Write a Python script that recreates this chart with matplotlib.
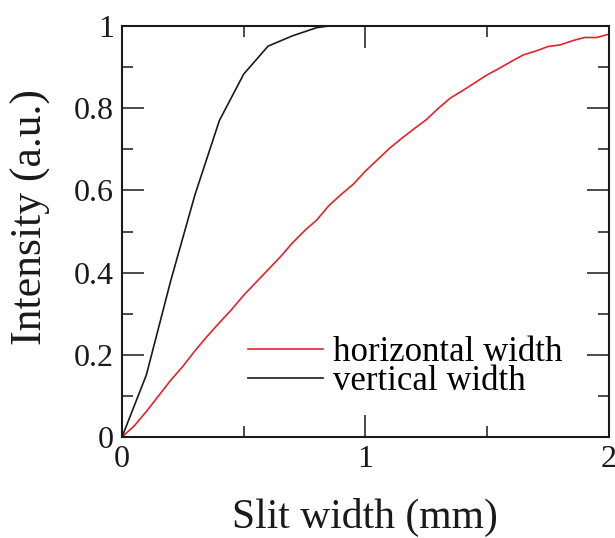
import matplotlib
matplotlib.use("Agg")
import matplotlib.pyplot as plt
from matplotlib.ticker import MultipleLocator, FuncFormatter

plt.rcParams['font.family'] = ['Liberation Serif', 'DejaVu Serif']

# Data
vert_x = [0, 0.1, 0.2, 0.3, 0.4, 0.5, 0.6, 0.7, 0.8, 0.85, 0.9, 1.0, 1.5, 2.0]
vert_y = [0, 0.151, 0.38, 0.59, 0.77, 0.883, 0.951, 0.976, 0.996, 1.0, 1.0, 1.0, 1.0, 1.0]

horiz_x = [0, 0.05, 0.1, 0.15, 0.2, 0.25, 0.3, 0.35, 0.4, 0.45, 0.5, 0.55, 0.6, 0.65,
           0.7, 0.75, 0.8, 0.85, 0.9, 0.95, 1.0, 1.05, 1.1, 1.15, 1.2, 1.25, 1.3, 1.35,
           1.4, 1.45, 1.5, 1.55, 1.6, 1.65, 1.7, 1.75, 1.8, 1.85, 1.9, 1.95, 2.0]
horiz_y = [0, 0.027, 0.062, 0.1, 0.138, 0.172, 0.21, 0.245, 0.278, 0.31, 0.345, 0.376,
           0.407, 0.438, 0.472, 0.502, 0.528, 0.563, 0.59, 0.615, 0.647, 0.675, 0.703,
           0.727, 0.75, 0.772, 0.8, 0.825, 0.843, 0.862, 0.881, 0.897, 0.914, 0.93,
           0.939, 0.95, 0.954, 0.964, 0.972, 0.972, 0.98]

labels = ["horizontal width", "vertical width"]
xlabel = "Slit width (mm)"
ylabel = "Intensity (a.u.)"

fig = plt.figure(figsize=(6.15, 5.38), dpi=100)
ax = fig.add_axes([0.1984, 0.1877, 0.7916, 0.764])

ax.plot(horiz_x, horiz_y, color='#e3232c', lw=1.2, label=labels[0])
ax.plot(vert_x, vert_y, color='#1a1a1a', lw=1.2, label=labels[1])

ax.set_xlim(0, 2)
ax.set_ylim(0, 1)
ax.xaxis.set_major_locator(MultipleLocator(1))
ax.xaxis.set_minor_locator(MultipleLocator(0.5))
ax.yaxis.set_major_locator(MultipleLocator(0.2))
ax.yaxis.set_minor_locator(MultipleLocator(0.1))
ax.yaxis.set_major_formatter(FuncFormatter(lambda v, p: f"{v:g}"))
ax.xaxis.set_major_formatter(FuncFormatter(lambda v, p: f"{v:g}"))

ax.tick_params(which='both', direction='in', top=True, right=True, width=1.1,
               labelsize=23, colors='#1a1a1a')
ax.tick_params(which='major', length=16, pad=6)
ax.tick_params(which='minor', length=8)
for s in ax.spines.values():
    s.set_linewidth(1.5)
    s.set_color('#1a1a1a')

ax.set_xlabel(xlabel, fontsize=30, labelpad=17, color='#1a1a1a')
ax.set_ylabel(ylabel, fontsize=31.5, color='#1a1a1a', va='center')
ax.yaxis.set_label_coords(-0.187, 0.535)

leg = ax.legend(loc='upper left', bbox_to_anchor=(0.2587, 0.246), frameon=False,
                fontsize=25, handlelength=2.16, handletextpad=0.29,
                labelspacing=-0.1, borderaxespad=0, borderpad=0)

fig.savefig("out.png", dpi=100)
